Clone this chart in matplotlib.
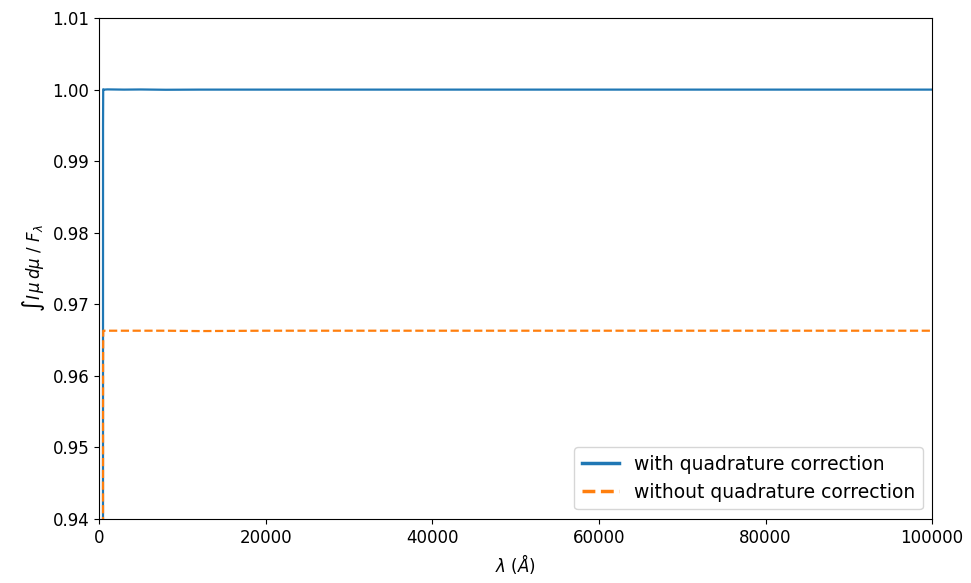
import numpy as np
import matplotlib.pyplot as plt

# wavelength grid (Angstrom) and the integrated intensity ratio for both cases
wavelength = [300, 470, 480, 500, 600, 1000, 3000, 5000, 8000, 12000, 20000,
              30000, 40000, 50000, 60000, 70000, 80000, 90000, 100000]
with_corr = [0.90, 0.90, 0.995, 1.00005, 1.0000, 1.00003, 1.0000, 1.00002, 0.99998,
             1.0000, 1.0000, 1.0000, 1.0000, 1.0000, 1.0000, 1.0000, 1.0000,
             1.0000, 1.0000]
without_corr = [0.90, 0.90, 0.9600, 0.9663, 0.9663, 0.9663, 0.9663, 0.9663, 0.9663,
                0.96625, 0.9663, 0.9663, 0.9663, 0.9663, 0.9663, 0.9663, 0.9663,
                0.9663, 0.9663]

fig = plt.figure(figsize=(9.71, 5.83), dpi=100)
ax = fig.add_axes([0.102, 0.110, 0.858, 0.859])

ax.plot(wavelength, with_corr, color='tab:blue', lw=1.6, label='with quadrature correction')
ax.plot(wavelength, without_corr, color='tab:orange', lw=1.6, ls='--',
        label='without quadrature correction')

ax.set_xlim(0, 100000)
ax.set_ylim(0.94, 1.01)
ax.set_xticks(np.arange(0, 100001, 20000))
ax.set_yticks(np.arange(0.94, 1.0101, 0.01))
ax.set_xlabel(r'$\lambda$ ($\AA$)', fontsize=12)
ax.set_ylabel(r'$\int I\,\mu\,d\mu\ /\ F_\lambda$', fontsize=12)
ax.tick_params(labelsize=12)
leg = ax.legend(loc='lower right', fontsize=13.5)
for line in leg.get_lines():
    line.set_linewidth(2.5)

fig.savefig('out.png', dpi=100)
